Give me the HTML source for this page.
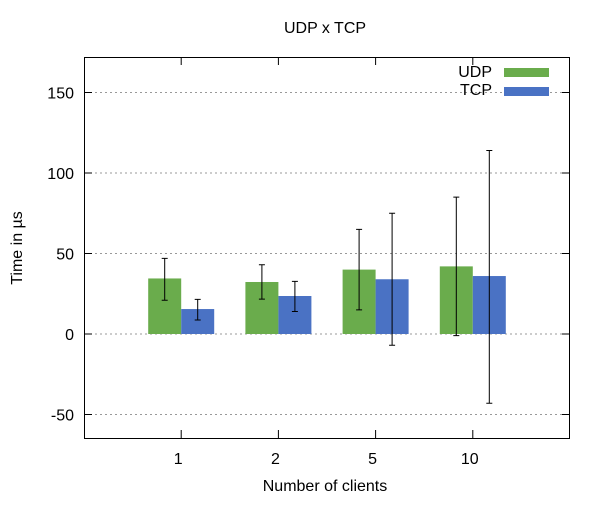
<!DOCTYPE html>
<html><head><meta charset="utf-8"><style>
body{margin:0;background:#fff;font-family:"Liberation Sans",sans-serif;}
svg text{font-family:"Liberation Sans",sans-serif;font-size:16px;fill:#000;}
</style></head><body>
<svg id="c" width="600" height="500">
<text x="325" y="33" text-anchor="middle">UDP x TCP</text>
<text x="325" y="491" text-anchor="middle">Number of clients</text>
<text transform="translate(22,248) rotate(-90)" text-anchor="middle">Time in µs</text>
<g id="grid"></g><g id="bars"></g>
<rect x="84.5" y="57.5" width="485" height="381" fill="none" stroke="#000"/>
<g id="ticks"></g>
<g>
<text x="492" y="77" text-anchor="end">UDP</text>
<rect x="504" y="68" width="45" height="9" fill="#6aac4c"/>
<text x="492" y="95" text-anchor="end">TCP</text>
<rect x="504" y="87" width="45" height="9" fill="#4a72c4"/>
</g>
</svg>
<script>
const categories=["1","2","5","10"];
const udp=[34.5,32.3,40,42];
const udpLo=[21,21.7,15,-1];
const udpHi=[47,43,65,85];
const tcp=[15.5,23.6,34,36];
const tcpLo=[8.7,14,-7,-43];
const tcpHi=[21.5,32.7,75,114];
const yTicks=[-50,0,50,100,150];
const NS="http://www.w3.org/2000/svg";
const y=v=>334-v*1.61;
const x=i=>84+(i+1)*97.2;
function mk(tag,attrs,parent){const e=document.createElementNS(NS,tag);for(const k in attrs)e.setAttribute(k,attrs[k]);document.getElementById(parent).appendChild(e);return e;}
yTicks.forEach(t=>{
 const g=mk('line',{x1:85,x2:569,y1:y(t),y2:y(t),stroke:'#999','stroke-dasharray':'2,3'},'grid');
 
 
 const tk=mk('line',{x1:84,x2:92,y1:y(t),y2:y(t),stroke:'#000'},'ticks');
 
 
 const tk2=mk('line',{x1:562,x2:570,y1:y(t),y2:y(t),stroke:'#000'},'ticks');
 
 
 const lb=mk('text',{x:74,y:y(t)+6,'text-anchor':'end'},'ticks');lb.textContent=t;
 
 
});
function bar(cx,v,lo,hi,col,name){
 const r=mk('rect',{x:cx,y:Math.min(y(v),y(0)),width:33,height:Math.abs(y(v)-y(0)),fill:col},'bars');
 
 
 const m=cx+16.5;
 const e=mk('path',{d:`M${m},${y(lo)}V${y(hi)}M${m-3},${y(lo)}h6M${m-3},${y(hi)}h6`,stroke:'#000',fill:'none','stroke-width':1},'bars');
 
 
}
categories.forEach((c,i)=>{
 const cx=x(i);
 bar(cx-33,udp[i],udpLo[i],udpHi[i],'#6aac4c','bar-udp-'+c);
 bar(cx,tcp[i],tcpLo[i],tcpHi[i],'#4a72c4','bar-tcp-'+c);
 const t1=mk('line',{x1:cx,x2:cx,y1:438,y2:430,stroke:'#000'},'ticks');
 
 
 const t2=mk('line',{x1:cx,x2:cx,y1:57,y2:65,stroke:'#000'},'ticks');
 
 
 const lb=mk('text',{x:cx-3,y:464,'text-anchor':'middle'},'ticks');lb.textContent=c;
 
 
});
</script>
</body></html>
